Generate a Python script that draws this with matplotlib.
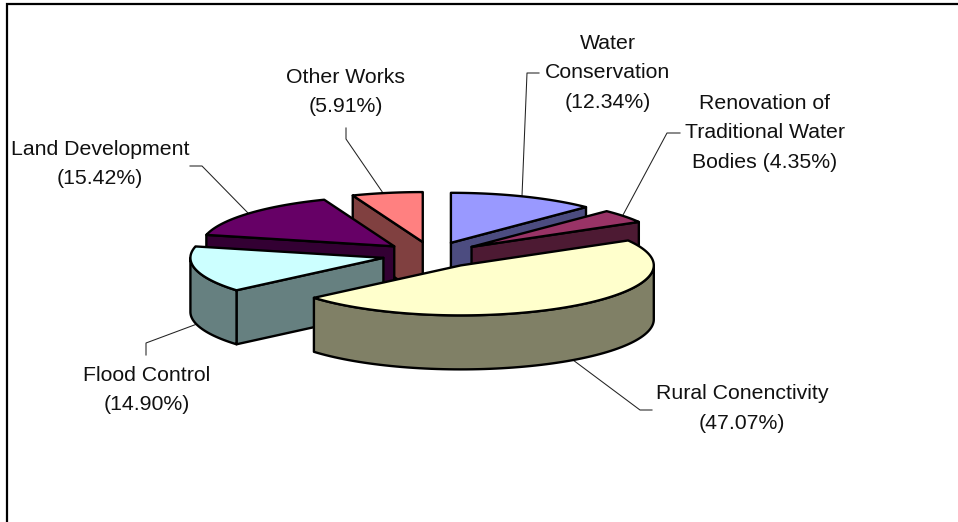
import numpy as np
import matplotlib
matplotlib.use("Agg")
import matplotlib.pyplot as plt
from matplotlib.patches import Polygon

plt.rcParams["font.family"] = ["Liberation Sans", "DejaVu Sans"]

# data, clockwise from 12 o'clock
names = ["Water\nConservation", "Renovation of\nTraditional Water\nBodies", "Rural Conenctivity",
         "Flood Control", "Land Development", "Other Works"]
shares = [12.34, 4.35, 47.07, 14.90, 15.42, 5.91]
top_colors = ["#9999FF", "#993366", "#FFFFCC", "#CCFFFF", "#660066", "#FF8080"]
side_colors = ["#4C4C80", "#4D1A33", "#808066", "#668080", "#330033", "#804040"]
draw_order = [0, 5, 4, 1, 3, 2]

# pie geometry in pixels
CX, CY = 432, 254.8
RX, RY = 193, 50
EXPLODE = 50
DEPTH = 54

fig = plt.figure(figsize=(9.58, 5.22), dpi=100)
ax = fig.add_axes([0, 0, 1, 1])
ax.set_xlim(0, 958)
ax.set_ylim(522, 0)
ax.axis("off")

# chart frame runs off the right and bottom of the image
ax.plot([7.5, 7.5, 958], [522, 4, 4], color="black", lw=1.6, solid_joinstyle="miter")


def rim(c, theta):
    return np.column_stack([c[0] + RX * np.sin(theta), c[1] - RY * np.cos(theta)])


def face(pts, color, z):
    ax.add_patch(Polygon(pts, closed=True, facecolor=color, edgecolor="black", lw=1.7,
                         joinstyle="round", zorder=z))


edges = np.radians(np.cumsum([0] + shares) * 360 / sum(shares))
down = np.array([0, DEPTH])
for z, i in enumerate(draw_order):
    a1, a2 = edges[i], edges[i + 1]
    mid = (a1 + a2) / 2
    c = np.array([CX + EXPLODE * np.sin(mid), CY - EXPLODE * RY / RX * np.cos(mid)])
    z0 = 3 + z
    # radial cut faces, only the ones turned towards the viewer
    for a, visible in ((a1, -np.sin(a1) > 1e-6), (a2, np.sin(a2) > 1e-6)):
        if visible:
            p = rim(c, np.array([a]))[0]
            face([c, p, p + down, c + down], side_colors[i], z0)
    # outer wall, front half of the rim only
    lo, hi = max(a1, np.pi / 2), min(a2, 3 * np.pi / 2)
    if hi > lo:
        arc = rim(c, np.linspace(lo, hi, 80))
        face(np.vstack([arc, arc[::-1] + down]), side_colors[i], z0 + 0.1)
    # top
    arc = rim(c, np.linspace(a1, a2, 120))
    face(np.vstack([c, arc]), top_colors[i], z0 + 0.2)

# leader lines
leaders = [
    ([522, 527, 539], [196, 73, 73]),
    ([623, 667, 680], [215, 133, 133]),
    ([383, 346, 346], [193, 139, 128]),
    ([248, 202, 190], [213, 166, 166]),
    ([197, 146, 146], [324, 343, 355]),
    ([573, 640, 652], [360, 410, 410]),
]
for xs, ys in leaders:
    ax.plot(xs, ys, color="#222222", lw=0.75, zorder=2)

# labels
texts = [
    (608, 73, names[0] + f"\n({shares[0]:.2f}%)"),
    (765, 133, names[1] + f" ({shares[1]:.2f}%)"),
    (742, 408.5, names[2] + f"\n({shares[2]:.2f}%)"),
    (147, 390, names[3] + f"\n({shares[3]:.2f}%)"),
    (100, 164, names[4] + f"\n({shares[4]:.2f}%)"),
    (346, 92, names[5] + f"\n({shares[5]:.2f}%)"),
]
for x, y, s in texts:
    ax.text(x, y, s, ha="center", va="center", fontsize=15.3, color="#111111",
            linespacing=1.72, zorder=20)

fig.savefig("out.png", dpi=100)
